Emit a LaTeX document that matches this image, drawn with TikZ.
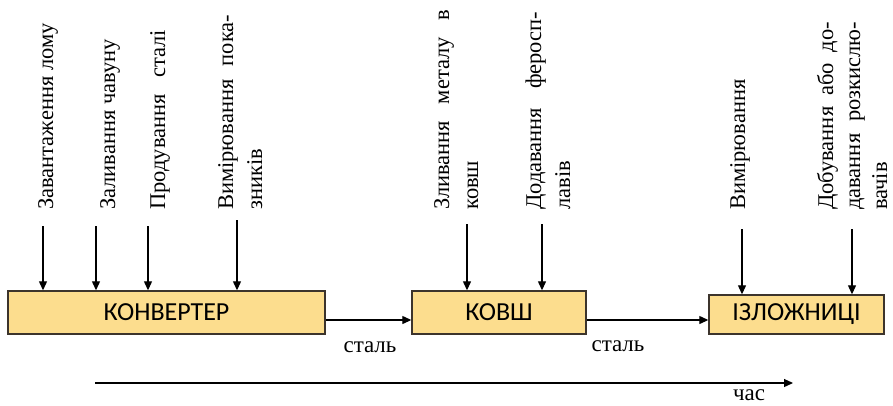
\documentclass[tikz,border=0pt]{standalone}
\usepackage{fontspec}
\setmainfont{Liberation Serif}
\newfontfamily\boxfont{Carlito}
\usetikzlibrary{arrows.meta}
\definecolor{boxfill}{RGB}{252,221,142}
\definecolor{boxline}{RGB}{60,52,44}
\begin{document}
\begin{tikzpicture}[x=1pt,y=-1pt,
  lbl/.style={rotate=90, anchor=base west, inner sep=0pt, align=left, font=\fontsize{22.5}{29}\selectfont},
  unit/.style={draw=boxline, line width=1.4pt, fill=boxfill, font=\boxfont\fontsize{26}{30}\selectfont, inner sep=0pt},
  arr/.style={line width=1.2pt, -{Triangle[length=9pt,width=8pt]}},
  plain/.style={font=\fontsize{23}{28}\selectfont, anchor=base, inner sep=0pt}]
\useasboundingbox[fill=white] (0,0) rectangle (893,405);

% units
\node[unit, minimum width=317pt, minimum height=43pt] (konv) at (166.5,312.5) {КОНВЕРТЕР};
\node[unit, minimum width=174pt, minimum height=43pt] (kovsh) at (499,312.5) {КОВШ};
\node[unit, minimum width=175pt, minimum height=39pt] (izl) at (796.5,314.5) {ІЗЛОЖНИЦІ};

% labels (anchor = baseline of the last line)
\node[lbl] (t1) at (53,210) {Завантаження лому};
\node[lbl] (t2) at (115,210) {Заливання чавуну};
\node[lbl] (t3) at (165,210) {\makebox[180pt][s]{Продування сталі}};
\node[lbl] (t4) at (262,210) {\makebox[195pt][s]{Вимірювання пока-}\\зників};
\node[lbl] (t5) at (478,210) {\makebox[200pt][s]{Зливання металу в}\\ковш};
\node[lbl] (t6) at (570,210) {\makebox[198pt][s]{Додавання феросп-}\\лавів};
\node[lbl] (t7) at (745,210) {Вимірювання};
\node[lbl, font=\fontsize{22.5}{27}\selectfont] (t8) at (887,210) {\makebox[188pt][s]{Добування або до-}\\\makebox[188pt][s]{давання розкислю-}\\вачів};

% input arrows
\coordinate (s1) at (43,226);
\coordinate (s2) at (96,226);
\coordinate (s3) at (148,226);
\coordinate (s4) at (237,220);
\coordinate (s5) at (467,224);
\coordinate (s6) at (542,224);
\coordinate (s7) at (742,229);
\coordinate (s8) at (852,229);
\foreach \s in {s1,s2,s3,s4} \draw[arr] (\s) -- (\s |- konv.north);
\foreach \s in {s5,s6} \draw[arr] (\s) -- (\s |- kovsh.north);
\foreach \s in {s7,s8} \draw[arr] (\s) -- (\s |- izl.north);

% flow arrows
\coordinate (f) at (0,320);
\draw[arr] (konv.east |- f) -- (kovsh.west |- f);
\draw[arr] (kovsh.east |- f) -- (izl.west |- f);
\node[plain] (st1) at (370,352) {сталь};
\node[plain] (st2) at (618,351) {сталь};

% time axis
\coordinate (ta) at (95,383);
\coordinate (tb) at (793,383);
\draw[arr] (ta) -- (tb);
\node[plain] (chas) at (749,400) {час};
\end{tikzpicture}
\end{document}
